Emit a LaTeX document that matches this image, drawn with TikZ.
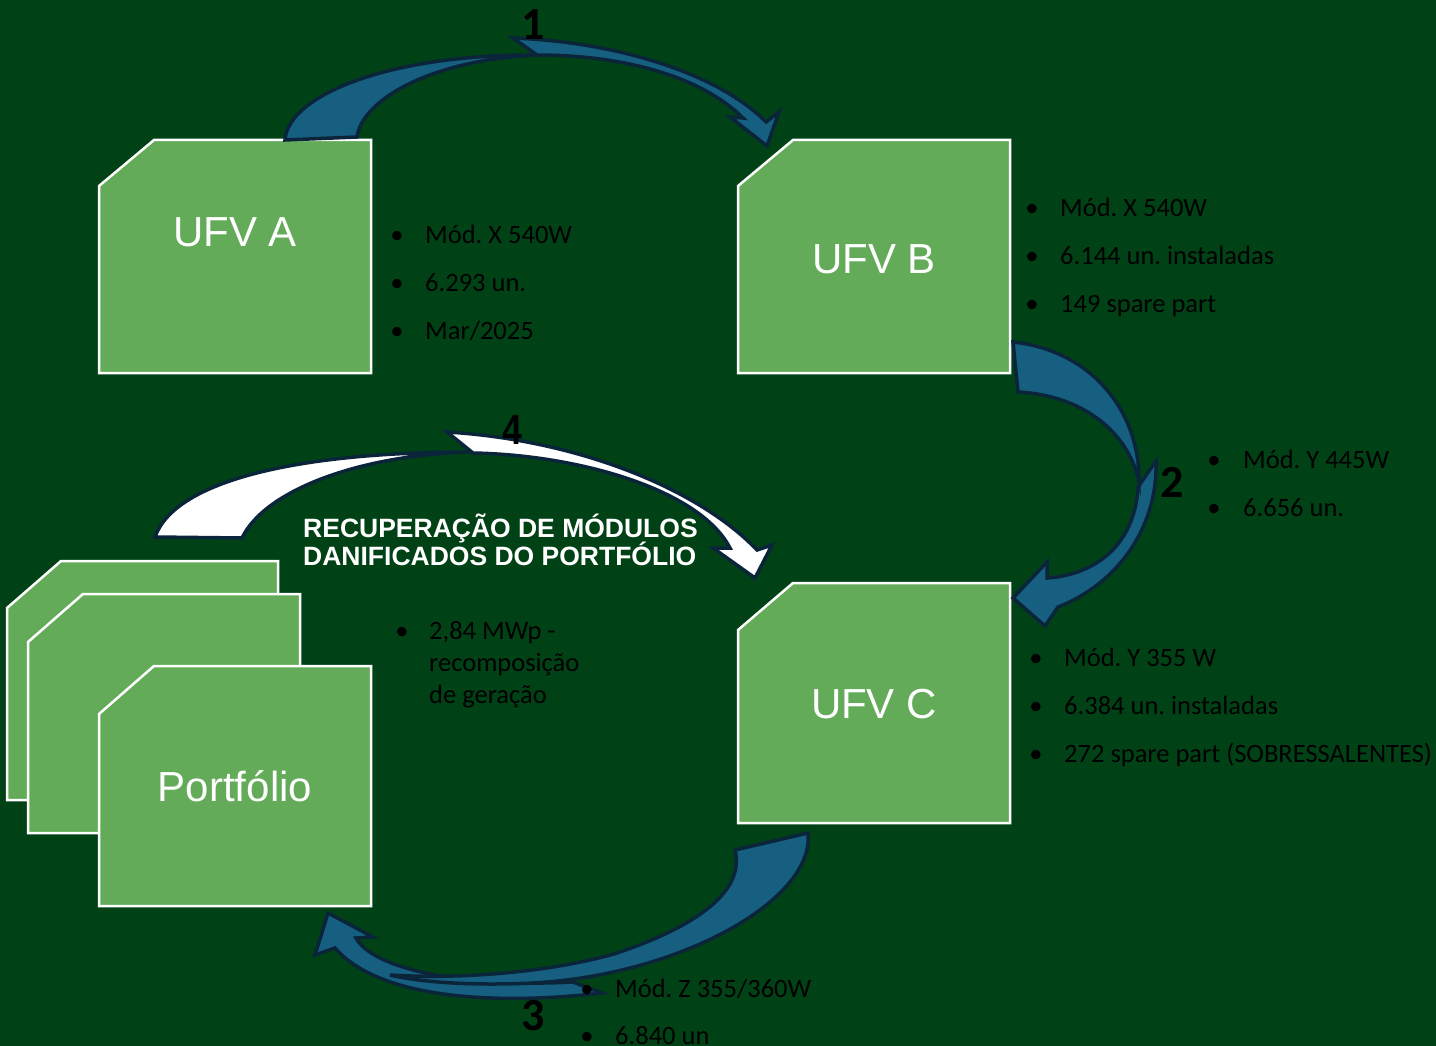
\documentclass[tikz,border=0pt]{standalone}
\usepackage{fontspec}
\setmainfont{Carlito}
\newfontfamily\arialf{Liberation Sans}
\definecolor{bggreen}{RGB}{0,66,22}
\definecolor{boxgreen}{RGB}{99,171,89}
\definecolor{arrowblue}{RGB}{22,95,128}
\definecolor{outlinec}{RGB}{10,37,58}
\frenchspacing
\begin{document}
\begin{tikzpicture}[x=1pt,y=-1pt,
  box/.style={fill=boxgreen, draw=white, line width=2.5pt},
  arr/.style={fill=arrowblue, draw=outlinec, line width=3.5pt},
  warr/.style={fill=white, draw=outlinec, line width=3.5pt},
  lbl/.style={text=white, font=\arialf\fontsize{42}{42}\selectfont, anchor=base, inner sep=0pt},
  bul/.style={text=black, font=\fontsize{26.5}{32}\selectfont, anchor=base, inner sep=0pt},
  itm/.style={text=black, font=\fontsize{26.5}{32}\selectfont, anchor=base west, inner sep=0pt},
  num/.style={text=black, font=\bfseries\fontsize{46}{46}\selectfont, anchor=base, inner sep=0pt},
  hdr/.style={text=white, font=\arialf\bfseries\fontsize{26.5}{28}\selectfont, anchor=base west, inner sep=0pt}]
\useasboundingbox (0,0) rectangle (1436,1046);
\fill[bggreen] (0,0) rectangle (1436,1046);

% boxes
\draw[box] (99,186) -- (154,140) -- (371,140) -- (371,373) -- (99,373) -- cycle;
\draw[box] (738,186) -- (793,140) -- (1010,140) -- (1010,373) -- (738,373) -- cycle;
\draw[box] (738,630) -- (793,583) -- (1010,583) -- (1010,823) -- (738,823) -- cycle;
\draw[box] (7,608) -- (61,561) -- (278,561) -- (278,800) -- (7,800) -- cycle;
\draw[box] (28,642) -- (83,594) -- (300,594) -- (300,833) -- (28,833) -- cycle;
\draw[box] (99,714) -- (154,666) -- (371,666) -- (371,906) -- (99,906) -- cycle;

\node[lbl] (la) at (235,247) {UFV A};
\node[lbl] (lb) at (874,273) {UFV B};
\node[lbl] (lc) at (874,718) {UFV C};
\node[lbl] (lp) at (235,801) {Portfólio};

% arrow 1
\draw[arr] (513,38) .. controls (620,42) and (720,75) .. (766,122)
  -- (779,112) -- (767,146) -- (730,117) -- (743,118)
  .. controls (700,75) and (620,55) .. (537,55) -- cycle;
\draw[arr] (285,140) .. controls (288,95) and (390,54) .. (537,55)
  .. controls (430,60) and (362,100) .. (357,137) -- cycle;

% arrow 2
\draw[arr] (1156,461) .. controls (1158,530) and (1115,585) .. (1058,607)
  -- (1045,626) -- (1013,598) -- (1047,562) -- (1047,578)
  .. controls (1095,575) and (1135,545) .. (1138,487) -- cycle;
\draw[arr] (1013,342) .. controls (1090,350) and (1140,410) .. (1139,482)
  .. controls (1128,430) and (1080,395) .. (1018,392) -- cycle;

% arrow 3
\draw[arr] (602,993) .. controls (500,1005) and (380,1000) .. (335,948)
  -- (315,955) -- (328,913) -- (373,937) -- (356,938)
  .. controls (372,968) and (460,988) .. (573,982) -- cycle;
\draw[arr] (808,833) .. controls (815,900) and (680,975) .. (533,983)
  .. controls (470,986) and (420,982) .. (390,975)
  .. controls (470,980) and (560,970) .. (617,953)
  .. controls (700,925) and (745,890) .. (735,850) -- cycle;

% arrow 4
\draw[warr] (447,432) .. controls (580,440) and (700,490) .. (757,550)
  -- (772,545) -- (755,578) -- (713,548) -- (730,548)
  .. controls (700,490) and (580,455) .. (473,453) -- cycle;
\draw[warr] (155,537) .. controls (175,480) and (300,452) .. (470,452)
  .. controls (360,455) and (265,490) .. (242,538) -- cycle;

% header
\node[hdr] (h1) at (303,537) {RECUPERAÇÃO DE MÓDULOS};
\node[hdr] (h2) at (303,565) {DANIFICADOS DO PORTFÓLIO};

% UFV A list
\node[bul] (ba1) at (397,243) {•}; \node[itm] (ta1) at (425,243) {Mód. X 540W};
\node[bul] (ba2) at (397,291) {•}; \node[itm] (ta2) at (425,291) {6.293 un.};
\node[bul] (ba3) at (397,339) {•}; \node[itm] (ta3) at (425,339) {Mar/2025};

% UFV B list
\node[bul] (bb1) at (1032,216) {•}; \node[itm] (tb1) at (1060,216) {Mód. X 540W};
\node[bul] (bb2) at (1032,264) {•}; \node[itm] (tb2) at (1060,264) {6.144 un. instaladas};
\node[bul] (bb3) at (1032,312) {•}; \node[itm] (tb3) at (1060,312) {149 spare part};

% arrow 2 list
\node[bul] (b21) at (1214,468) {•}; \node[itm] (t21) at (1243,468) {Mód. Y 445W};
\node[bul] (b22) at (1214,516) {•}; \node[itm] (t22) at (1243,516) {6.656 un.};

% UFV C list
\node[bul] (bc1) at (1036,666) {•}; \node[itm] (tc1) at (1064,666) {Mód. Y 355 W};
\node[bul] (bc2) at (1036,714) {•}; \node[itm] (tc2) at (1064,714) {6.384 un. instaladas};
\node[bul] (bc3) at (1036,762) {•}; \node[itm] (tc3) at (1064,762) {272 spare part (SOBRESSALENTES)};

% portfolio list
\node[bul] (bp1) at (402,639) {•}; \node[itm] (tp1) at (429,639) {2,84 MWp -};
\node[itm] (tp2) at (429,671) {recomposição};
\node[itm] (tp3) at (429,703) {de geração};

% arrow 3 list
\node[bul] (b31) at (587,997) {•}; \node[itm] (t31) at (615,997) {Mód. Z 355/360W};
\node[bul] (b32) at (587,1044) {•}; \node[itm] (t32) at (615,1044) {6.840 un};

% numbers
\node[num] (n1) at (533,40) {1};
\node[num] (n2) at (1172,497) {2};
\node[num] (n3) at (533,1030) {3};
\node[num, font=\arialf\bfseries\fontsize{42}{42}\selectfont, xscale=0.85] (n4) at (512,444) {4};
\end{tikzpicture}
\end{document}
